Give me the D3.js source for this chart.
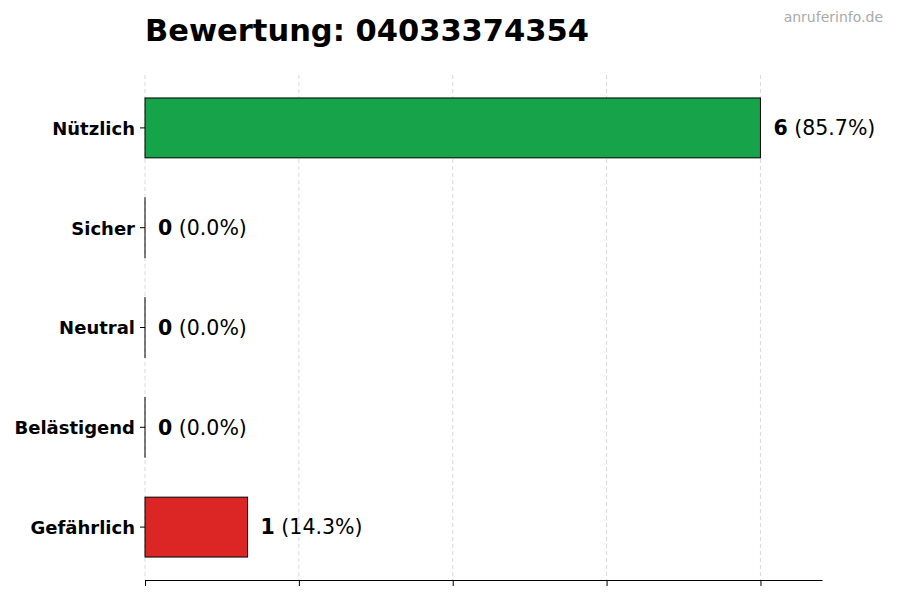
<!DOCTYPE html>
<html>
<head>
<meta charset="utf-8">
<script src="https://cdn.jsdelivr.net/npm/d3@7"></script>
<style>
  body { margin: 0; background: #fff; }
  svg { font-family: "DejaVu Sans", sans-serif; }
</style>
</head>
<body>
<svg width="900" height="600"></svg>
<script>
var categories = ["Nützlich", "Sicher", "Neutral", "Belästigend", "Gefährlich"];
var counts = [6, 0, 0, 0, 1];
var colors = ["#16a34a", "#9ca3af", "#6b7280", "#f59e0b", "#dc2626"];
var xTicks = [0, 1.5, 3, 4.5, 6];

var total = d3.sum(counts);
var svg = d3.select("svg");

var x = d3.scaleLinear().domain([0, 6.6]).range([145, 822]);
var y = d3.scaleBand().domain(categories).range([78, 577]).paddingInner(0.4).paddingOuter(0.2);

// grid
svg.append("g").selectAll("line")
    .data(xTicks)
    .enter().append("line")
    .attr("x1", function(d) { return x(d); })
    .attr("x2", function(d) { return x(d); })
    .attr("y1", 75)
    .attr("y2", 580)
    .attr("stroke", "#d0d0d0")
    .attr("stroke-width", 0.8)
    .attr("stroke-dasharray", "4,3");

// bars (zero bars still get their black edge)
svg.append("g").selectAll("rect")
    .data(categories)
    .enter().append("rect")
    .attr("x", x(0))
    .attr("y", function(d) { return y(d); })
    .attr("width", function(d, i) { return Math.max(x(counts[i]) - x(0), 0.01); })
    .attr("height", y.bandwidth())
    .attr("fill", function(d, i) { return colors[i]; })
    .attr("stroke", "#000")
    .attr("stroke-width", 1);

// value labels
var labels = svg.append("g").selectAll("text")
    .data(categories)
    .enter().append("text")
    .attr("x", function(d, i) { return x(counts[i]) + 13; })
    .attr("y", function(d) { return y(d) + y.bandwidth() / 2; })
    .attr("dy", "0.36em")
    .attr("font-size", 20.5)
    .attr("fill", "#000");
labels.append("tspan")
    .attr("font-weight", "bold")
    .text(function(d, i) { return counts[i]; });
labels.append("tspan")
    .text(function(d, i) { return " (" + (counts[i] / total * 100).toFixed(1) + "%)"; });

// y axis
var yAxis = svg.append("g")
    .attr("transform", "translate(145,0)")
    .call(d3.axisLeft(y).tickSize(5).tickPadding(5));
yAxis.select(".domain").remove();
yAxis.selectAll("line").attr("stroke", "#000");
yAxis.selectAll("text")
    .attr("font-size", 18)
    .attr("font-weight", "bold")
    .attr("font-family", "DejaVu Sans")
    .attr("fill", "#000")
    .attr("dy", "0.38em");

// x axis
var xAxis = svg.append("g")
    .attr("transform", "translate(0,580)")
    .call(d3.axisBottom(x).tickValues(xTicks).tickSize(6).tickSizeOuter(0).tickFormat(""));
xAxis.select(".domain").attr("stroke", "#000").attr("stroke-width", 1.2);
xAxis.selectAll("line").attr("stroke", "#000");

// title
svg.append("text")
    .attr("x", 145)
    .attr("y", 41)
    .attr("font-size", 30.5)
    .attr("font-weight", "bold")
    .attr("fill", "#000")
    .text("Bewertung: 04033374354");

svg.append("text")
    .attr("x", 883)
    .attr("y", 22)
    .attr("text-anchor", "end")
    .attr("font-size", 14)
    .attr("fill", "#aaaaaa")
    .text("anruferinfo.de");
</script>
</body>
</html>
